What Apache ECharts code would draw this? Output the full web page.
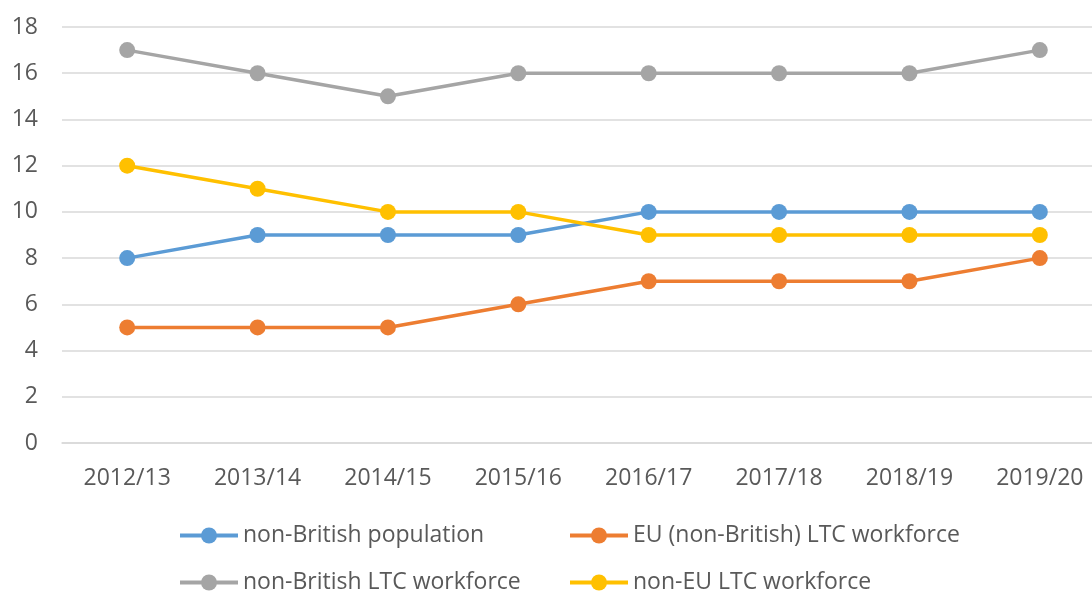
<!DOCTYPE html>
<html>
<head>
<meta charset="utf-8">
<script src="https://cdn.jsdelivr.net/npm/echarts@6/dist/echarts.min.js"></script>
<style>
html,body{margin:0;padding:0;background:#fff;}
#c{width:1092px;height:594px;}
</style>
</head>
<body>
<div id="c"></div>
<script>
const categories = ['2012/13','2013/14','2014/15','2015/16','2016/17','2017/18','2018/19','2019/20'];
const nonBritishPopulation = [8,9,9,9,10,10,10,10];
const euLtcWorkforce = [5,5,5,6,7,7,7,8];
const nonBritishLtcWorkforce = [17,16,15,16,16,16,16,17];
const nonEuLtcWorkforce = [12,11,10,10,9,9,9,9];
const seriesNames = ['non-British population','EU (non-British) LTC workforce','non-British LTC workforce','non-EU LTC workforce'];
const colors = ['#5B9BD5','#ED7D31','#A5A5A5','#FFC000'];

const font = 'Open Sans';
const textColor = '#595959';
const chart = echarts.init(document.getElementById('c'));

function mkSeries(name, data, color) {
  return {
    name: name, type: 'line', data: data,
    symbol: 'circle', symbolSize: 16,
    lineStyle: {color: color, width: 3.5},
    itemStyle: {color: color},
    animation: false
  };
}
function mkLegend(name, left, top) {
  return {
    data: [name], left: left, top: top,
    itemWidth: 58, itemHeight: 20, padding: 0,
    lineStyle: {width: 4},
    textStyle: {fontFamily: font, fontSize: 23, color: textColor},
    selectedMode: false
  };
}

chart.setOption({
  backgroundColor: '#fff',
  animation: false,
  grid: {left: 62, top: 27, width: 1043, height: 416, containLabel: false, outerBoundsMode: 'none'},
  xAxis: {
    type: 'category', data: categories,
    axisLine: {lineStyle: {color: '#D9D9D9', width: 1.5}},
    axisTick: {show: false},
    axisLabel: {fontFamily: font, fontSize: 23, color: textColor, margin: 24}
  },
  yAxis: {
    type: 'value', min: 0, max: 18, interval: 2,
    axisLine: {show: false}, axisTick: {show: false},
    splitLine: {lineStyle: {color: '#D9D9D9', width: 1.5}},
    axisLabel: {fontFamily: font, fontSize: 23, color: textColor, margin: 24}
  },
  legend: [
    mkLegend(seriesNames[0], 178, 524),
    mkLegend(seriesNames[1], 568, 524),
    mkLegend(seriesNames[2], 178, 571),
    mkLegend(seriesNames[3], 568, 571)
  ],
  series: [
    mkSeries(seriesNames[0], nonBritishPopulation, colors[0]),
    mkSeries(seriesNames[1], euLtcWorkforce, colors[1]),
    mkSeries(seriesNames[2], nonBritishLtcWorkforce, colors[2]),
    mkSeries(seriesNames[3], nonEuLtcWorkforce, colors[3])
  ]
});
</script>
</body>
</html>
